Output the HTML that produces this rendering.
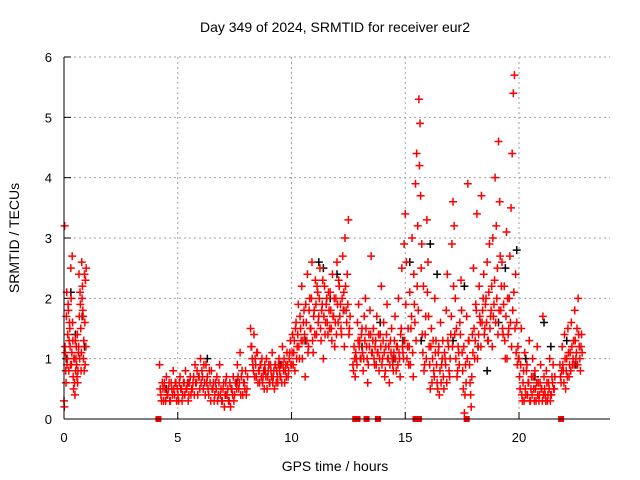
<!DOCTYPE html>
<html><head><meta charset="utf-8"><style>
body{margin:0;background:#fff}
svg{display:block;font-family:"Liberation Sans",sans-serif}
</style></head><body>
<svg id="chart" width="640" height="480">
<text x="335" y="32" text-anchor="middle" font-size="14">Day 349 of 2024, SRMTID for receiver eur2</text>
<text x="335" y="471" text-anchor="middle" font-size="14">GPS time / hours</text>
<text transform="translate(19,238) rotate(-90)" text-anchor="middle" font-size="14">SRMTID / TECUs</text>
<g id="grid"></g><g id="ticks"></g><g id="black"></g><g id="red"></g>
<line x1="64" y1="419" x2="610" y2="419" stroke="#000"/>
<line x1="64" y1="57" x2="64" y2="419" stroke="#000"/>
</svg>
<script>
const xTicks=[0,5,10,15,20];
const yTicks=[0,1,2,3,4,5,6];
const segStart=[0.0,4.2,8.2,10.0,12.7,15.0,17.5,20.0,21.8];
const segStep=[0.03,0.06,0.05,0.05,0.05,0.05,0.05,0.05,0.05];
const segA1=[0.3,3.2,1.1,0.6,2.1,1.0,1.9,0.8,1.6,1.2,2.5,0.9,2.7,1.3,0.5,1.0,0.4,0.8,1.2,0.7,0.6,1.1,2.4,1.0,1.9,0.8,2.6,2.2,1.7,1.3,2.4,0.9,1.2];
const segA2=[0.2,1.2,0.8,1.7,0.9,1.4,1.8,1.3,1.5,0.9,2.0,1.1,1.6,0.7,1.0,0.6,1.3,1.0,0.9,1.4,0.8,1.2,1.7,2.1,1.5,1.1,2.0,1.8,1.0,0.8,1.6,2.3,2.5];
const segB1=[0.9,0.4,0.6,0.3,0.5,0.7,0.4,0.6,0.3,0.5,0.8,0.4,0.6,0.5,0.3,0.7,0.5,0.4,0.6,0.8,0.5,0.3,0.6,0.4,0.5,0.7,0.9,0.6,0.4,0.7,1.0,0.8,0.5,0.6,0.9,0.7,0.4,0.6,0.8,0.5,0.3,0.6,0.7,0.4,0.9,0.5,0.3,0.6,0.4,0.7,0.5,0.3,0.2,0.5,0.7,0.4,0.6,0.9,0.5,1.1,0.7,0.4,0.6,0.8,0.5];
const segB2=[0.5,0.3,0.5,0.6,0.3,0.4,0.5,0.3,0.6,0.4,0.5,0.6,0.3,0.4,0.6,0.5,0.3,0.6,0.4,0.5,0.6,0.4,0.7,0.5,0.6,0.4,0.6,0.8,0.7,0.5,0.6,0.7,0.9,0.4,0.6,0.5,0.8,0.3,0.5,0.6,0.4,0.5,0.3,0.6,0.4,0.3,0.5,0.2,0.6,0.4,0.3,0.6,0.5,0.4,0.3,0.6,0.5,0.7,0.6,0.4,0.8,0.6,0.5,0.4,0.7];
const segC1=[1.5,1.2,0.9,1.4,1.0,0.7,1.1,0.8,0.6,0.9,1.0,0.7,0.5,0.8,1.0,0.7,0.9,0.6,0.8,1.1,0.7,0.5,0.9,0.8,0.6,1.0,0.7,0.9,1.2,0.8,0.6,0.9,1.1,0.7,1.0,1.3];
const segC2=[1.2,1.0,0.8,0.7,0.9,1.1,0.6,0.8,0.9,0.7,0.6,0.8,0.9,0.7,0.5,0.8,0.6,0.9,0.7,0.6,0.8,0.9,0.6,0.7,0.9,0.8,0.7,0.6,0.9,1.0,0.8,0.7,0.9,0.8,1.1,0.9];
const segD1=[0.9,1.4,1.1,0.8,1.6,1.2,1.9,1.0,1.5,2.2,1.3,1.8,0.7,1.6,2.4,1.2,2.0,1.5,2.6,1.1,1.8,2.3,1.4,2.1,1.7,2.5,1.3,1.9,1.0,2.2,1.6,2.0,1.4,1.8,2.1,1.5,2.4,1.7,1.2,2.0,2.6,1.6,2.2,1.9,1.4,2.7,2.1,3.0,1.8,2.4,3.3,1.5];
const segD2=[1.1,0.9,1.3,1.5,1.0,1.4,1.2,1.7,1.3,1.0,1.6,1.4,1.9,1.3,1.1,1.8,1.5,2.0,1.3,1.7,1.4,1.9,2.2,1.6,2.0,1.5,1.8,2.3,1.7,1.4,1.9,1.6,2.1,1.5,1.8,1.3,1.7,2.0,1.6,1.4,1.9,2.3,1.7,1.5,2.0,1.8,1.2,2.2,1.6,1.9,1.4,1.7];
const segE1=[0.9,1.2,0.7,1.0,1.6,1.9,1.3,1.0,1.5,0.8,1.7,2.0,1.2,0.6,1.4,1.8,2.7,1.1,1.5,0.9,1.3,1.7,1.1,0.8,1.4,2.2,1.0,1.6,0.7,1.2,1.9,1.0,0.6,1.3,1.5,0.9,1.1,1.7,0.8,1.2,2.0,1.0,1.4,2.5,1.1,2.9];
const segE2=[0.8,1.0,1.1,0.9,1.3,1.2,1.0,1.4,1.1,1.0,1.3,1.5,1.0,0.9,1.2,1.4,1.1,1.3,1.0,1.2,0.9,1.1,1.4,1.0,1.2,0.9,1.3,1.1,0.8,1.4,1.0,1.2,0.9,1.1,1.0,0.8,1.3,1.0,1.2,0.9,1.1,0.7,1.5,1.2,1.0,1.3];
const segF1=[3.4,2.6,1.2,0.9,2.1,1.5,3.0,0.7,1.9,3.9,4.4,3.2,5.3,4.9,2.5,1.4,2.2,0.9,1.7,3.3,2.6,1.2,0.5,1.5,1.0,0.8,2.0,1.3,0.6,1.1,0.4,1.6,0.9,1.3,0.5,1.0,1.8,2.4,1.2,0.7,1.4,2.9,3.6,3.2,2.0,1.5,0.8,1.1,1.6,2.3];
const segF2=[1.9,1.0,1.5,1.2,0.9,1.7,1.1,2.4,1.6,1.3,2.2,1.8,4.2,3.7,2.9,1.1,0.8,1.4,1.0,2.1,1.7,0.9,1.2,0.6,1.3,0.7,1.1,0.9,0.5,1.2,0.8,0.6,1.0,0.7,1.1,0.9,0.6,1.3,0.8,1.0,1.7,1.2,2.2,1.4,1.0,0.7,1.2,0.9,1.4,1.8];
const segG1=[1.1,0.5,0.1,0.9,1.7,3.9,1.3,0.6,0.2,1.4,2.5,1.0,1.9,3.4,1.2,2.2,1.6,3.7,1.8,2.4,1.5,2.0,2.6,1.3,2.9,1.7,2.2,3.0,1.9,4.0,3.2,2.5,4.6,3.6,1.8,2.6,1.4,2.2,1.0,3.1,2.0,1.5,2.7,3.5,4.4,5.4,5.7,2.4,1.6,1.2];
const segG2=[0.8,1.2,0.4,0.6,1.0,1.3,0.9,0.4,0.7,1.1,1.5,1.3,1.8,1.0,1.4,1.7,1.2,1.6,2.0,1.4,1.9,1.6,1.3,2.1,1.5,1.8,1.2,1.7,2.3,1.6,2.0,1.4,1.8,2.7,2.2,1.5,1.9,1.3,1.7,1.0,1.4,2.0,1.6,1.2,1.8,2.1,1.5,1.1,0.9,1.0];
const segH1=[1.0,0.5,1.5,0.3,0.8,1.1,0.4,0.9,0.6,1.3,0.3,0.7,1.0,0.5,0.8,0.3,1.2,0.6,0.4,0.9,0.5,1.7,0.7,0.4,0.8,0.3,0.6,1.0,0.4,0.7,0.9,0.5];
const segH2=[0.7,0.9,0.4,0.6,0.3,0.5,0.8,0.4,0.6,0.3,0.5,0.4,0.7,0.3,0.5,0.6,0.4,0.3,0.6,0.5,0.3,0.4,0.5,0.3,0.6,0.4,0.5,0.3,0.4,0.6,0.5,0.7];
const segI1=[0.9,0.6,1.2,0.8,1.4,0.5,1.0,1.5,0.7,1.1,1.6,0.9,1.3,1.8,1.0,1.5,2.0,1.2,0.8,1.4];
const segI2=[0.7,0.8,0.9,0.6,1.0,0.8,0.7,1.1,0.9,0.8,1.2,1.0,0.9,1.3,1.1,0.9,1.4,1.0,1.2,1.1];
const blackTimes=[0.1,0.3,0.5,0.8,0.9,4.5,5.5,6.3,7.1,7.6,8.8,9.5,10.6,11.2,11.4,11.7,12.0,12.3,13.1,13.9,14.5,14.9,15.2,15.7,16.1,16.4,17.1,17.6,18.2,18.6,19.1,19.4,19.9,20.3,20.7,21.1,21.4,22.1,22.5];
const blackVals=[1.0,2.1,1.4,1.7,1.2,0.5,0.6,1.0,0.4,0.6,0.8,0.9,1.3,2.6,2.5,2.0,2.4,1.8,1.2,1.6,1.0,1.3,2.6,1.3,2.9,2.4,1.3,2.2,1.2,0.8,1.6,2.5,2.8,1.0,0.7,1.6,1.2,1.3,0.9];
const zeroTimes=[4.15,12.8,12.9,13.3,13.8,15.45,15.6,17.7,21.85];
const zeroVals=[0,0,0,0,0,0,0,0,0];

const rows=[[segA1,segA2],[segB1,segB2],[segC1,segC2],[segD1,segD2],[segE1,segE2],[segF1,segF2],[segG1,segG2],[segH1,segH2],[segI1,segI2]];
const NS='http://www.w3.org/2000/svg';
const X=t=>64+t*(546/24);
const Y=v=>419-v*(362/6);
function el(tag,attrs,parent){const e=document.createElementNS(NS,tag);for(const k in attrs)e.setAttribute(k,attrs[k]);parent.appendChild(e);return e;}
const grid=document.getElementById('grid'),ticks=document.getElementById('ticks');
xTicks.forEach(t=>{
  if(t>0){const g=el('line',{x1:X(t),x2:X(t),y1:57,y2:419,stroke:'#a0a0a0','stroke-dasharray':'2,3'},grid);
  
  }
  const tk=el('line',{x1:X(t),x2:X(t),y1:419,y2:412,stroke:'#000'},ticks);
  
  
  const lb=el('text',{x:X(t),y:442,'text-anchor':'middle','font-size':13},ticks);lb.textContent=t;
  
  
});
yTicks.forEach(v=>{
  if(v>0){const g=el('line',{x1:64,x2:610,y1:Y(v),y2:Y(v),stroke:'#a0a0a0','stroke-dasharray':'2,3'},grid);
  
  }
  const tk=el('line',{x1:64,x2:71,y1:Y(v),y2:Y(v),stroke:'#000'},ticks);
  
  
  const lb=el('text',{x:52,y:Y(v)+5,'text-anchor':'end','font-size':13},ticks);lb.textContent=v;
  
  
});
function plus(t,v,color,g){
  const x=X(t),y=Y(v);
  const p=el('path',{d:`M${x-4},${y}H${x+4}M${x},${y-4}V${y+4}`,stroke:color,'stroke-width':1.5,fill:'none'},g);
  
  
}
const bg=document.getElementById('black'),rg=document.getElementById('red');
blackTimes.forEach((t,i)=>plus(t,blackVals[i],'#000',bg));
rows.forEach((pair,s)=>pair.forEach((vals,r)=>vals.forEach((v,i)=>plus(segStart[s]+i*segStep[s]+r*segStep[s]/2,v,'#f00',rg))));
zeroTimes.forEach((t,i)=>{
  const q=el('rect',{x:X(t)-3,y:Y(zeroVals[i])-3,width:6,height:6,fill:'#f00'},rg);
  
  
});
</script>
</body></html>
